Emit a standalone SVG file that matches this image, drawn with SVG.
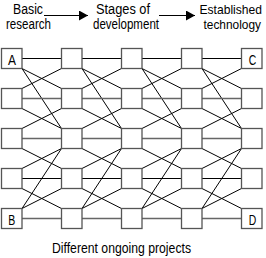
<svg xmlns="http://www.w3.org/2000/svg" xmlns:xlink="http://www.w3.org/1999/xlink" width="266" height="258" viewBox="0 0 266 258">
<style>
.box{fill:#fff;stroke:#555;stroke-width:1.3}
.ln{fill:none;stroke:#000;stroke-width:1}
.lg{fill:none;stroke:#666;stroke-width:1.5}
.t{font-family:"Liberation Sans Narrow","Liberation Sans",Arial,sans-serif;font-size:14px;fill:#000}
.ts{font-size:12.8px}
.lbl{font-family:"Liberation Sans Narrow","Liberation Sans",Arial,sans-serif;font-size:14.5px;fill:#000;text-anchor:middle}
</style>
<defs>
<marker id="ah" markerUnits="userSpaceOnUse" markerWidth="9" markerHeight="10" refX="9" refY="5" orient="auto">
<path d="M0,0L9,5L0,10z" fill="#000"/>
</marker>
<g id="bay">
<path class="ln" d="M22 68.5L61.5 88.5M61.5 68.5L22 88.5M22 108.5L61.5 128.5M61.5 108.5L22 128.5M22 148.5L61.5 168.5M61.5 148.5L22 168.5M22 188.5L61.5 208.5M61.5 188.5L22 208.5M22 68.5L61.5 128.5M61.5 148.5L22 208.5M22 58.5H61.5M22 178.5H61.5"/>
<path class="lg" d="M22 98.5H61.5M22 138.5H61.5M22 218.5H61.5"/>
</g>
<rect id="bx" class="box" width="20.5" height="20"/>
</defs>
<g id="header">
<text class="t" x="13" y="14" textLength="30" lengthAdjust="spacingAndGlyphs">Basic</text>
<text class="t" x="6" y="28.5" textLength="45" lengthAdjust="spacingAndGlyphs">research</text>
<text class="t" x="96" y="14" textLength="54" lengthAdjust="spacingAndGlyphs">Stages of</text>
<text class="t" x="93" y="28.5" textLength="66" lengthAdjust="spacingAndGlyphs">development</text>
<text class="t ts" x="199.5" y="14" textLength="62.5" lengthAdjust="spacingAndGlyphs">Established</text>
<text class="t ts" x="203.5" y="28.5" textLength="57.5" lengthAdjust="spacingAndGlyphs">technology</text>
<line class="ln" x1="44" y1="15.5" x2="88" y2="15.5" marker-end="url(#ah)"/>
<line class="ln" x1="159" y1="15.5" x2="195" y2="15.5" marker-end="url(#ah)"/>
</g>
<g id="connectors">
<use href="#bay" x="0"/>
<use href="#bay" x="60"/>
<use href="#bay" x="120"/>
<use href="#bay" x="180"/>
</g>
<g id="n-0-0"><use href="#bx" x="1.5" y="48.5"/><text class="lbl" x="12" y="64.8" textLength="8" lengthAdjust="spacingAndGlyphs">A</text></g>
<g id="n-0-1"><use href="#bx" x="61.5" y="48.5"/></g>
<g id="n-0-2"><use href="#bx" x="121.5" y="48.5"/></g>
<g id="n-0-3"><use href="#bx" x="181.5" y="48.5"/></g>
<g id="n-0-4"><use href="#bx" x="241.5" y="48.5"/><text class="lbl" x="252.5" y="64.8" textLength="7.5" lengthAdjust="spacingAndGlyphs">C</text></g>
<g id="n-1-0"><use href="#bx" x="1.5" y="88.5"/></g>
<g id="n-1-1"><use href="#bx" x="61.5" y="88.5"/></g>
<g id="n-1-2"><use href="#bx" x="121.5" y="88.5"/></g>
<g id="n-1-3"><use href="#bx" x="181.5" y="88.5"/></g>
<g id="n-1-4"><use href="#bx" x="241.5" y="88.5"/></g>
<g id="n-2-0"><use href="#bx" x="1.5" y="128.5"/></g>
<g id="n-2-1"><use href="#bx" x="61.5" y="128.5"/></g>
<g id="n-2-2"><use href="#bx" x="121.5" y="128.5"/></g>
<g id="n-2-3"><use href="#bx" x="181.5" y="128.5"/></g>
<g id="n-2-4"><use href="#bx" x="241.5" y="128.5"/></g>
<g id="n-3-0"><use href="#bx" x="1.5" y="168.5"/></g>
<g id="n-3-1"><use href="#bx" x="61.5" y="168.5"/></g>
<g id="n-3-2"><use href="#bx" x="121.5" y="168.5"/></g>
<g id="n-3-3"><use href="#bx" x="181.5" y="168.5"/></g>
<g id="n-3-4"><use href="#bx" x="241.5" y="168.5"/></g>
<g id="n-4-0"><use href="#bx" x="1.5" y="208.5"/><text class="lbl" x="11.8" y="225" textLength="7" lengthAdjust="spacingAndGlyphs">B</text></g>
<g id="n-4-1"><use href="#bx" x="61.5" y="208.5"/></g>
<g id="n-4-2"><use href="#bx" x="121.5" y="208.5"/></g>
<g id="n-4-3"><use href="#bx" x="181.5" y="208.5"/></g>
<g id="n-4-4"><use href="#bx" x="241.5" y="208.5"/><text class="lbl" x="252.5" y="225" textLength="7.5" lengthAdjust="spacingAndGlyphs">D</text></g>
<g id="caption">
<text class="t" x="52" y="253" textLength="139" lengthAdjust="spacingAndGlyphs">Different ongoing projects</text>
</g>
</svg>
